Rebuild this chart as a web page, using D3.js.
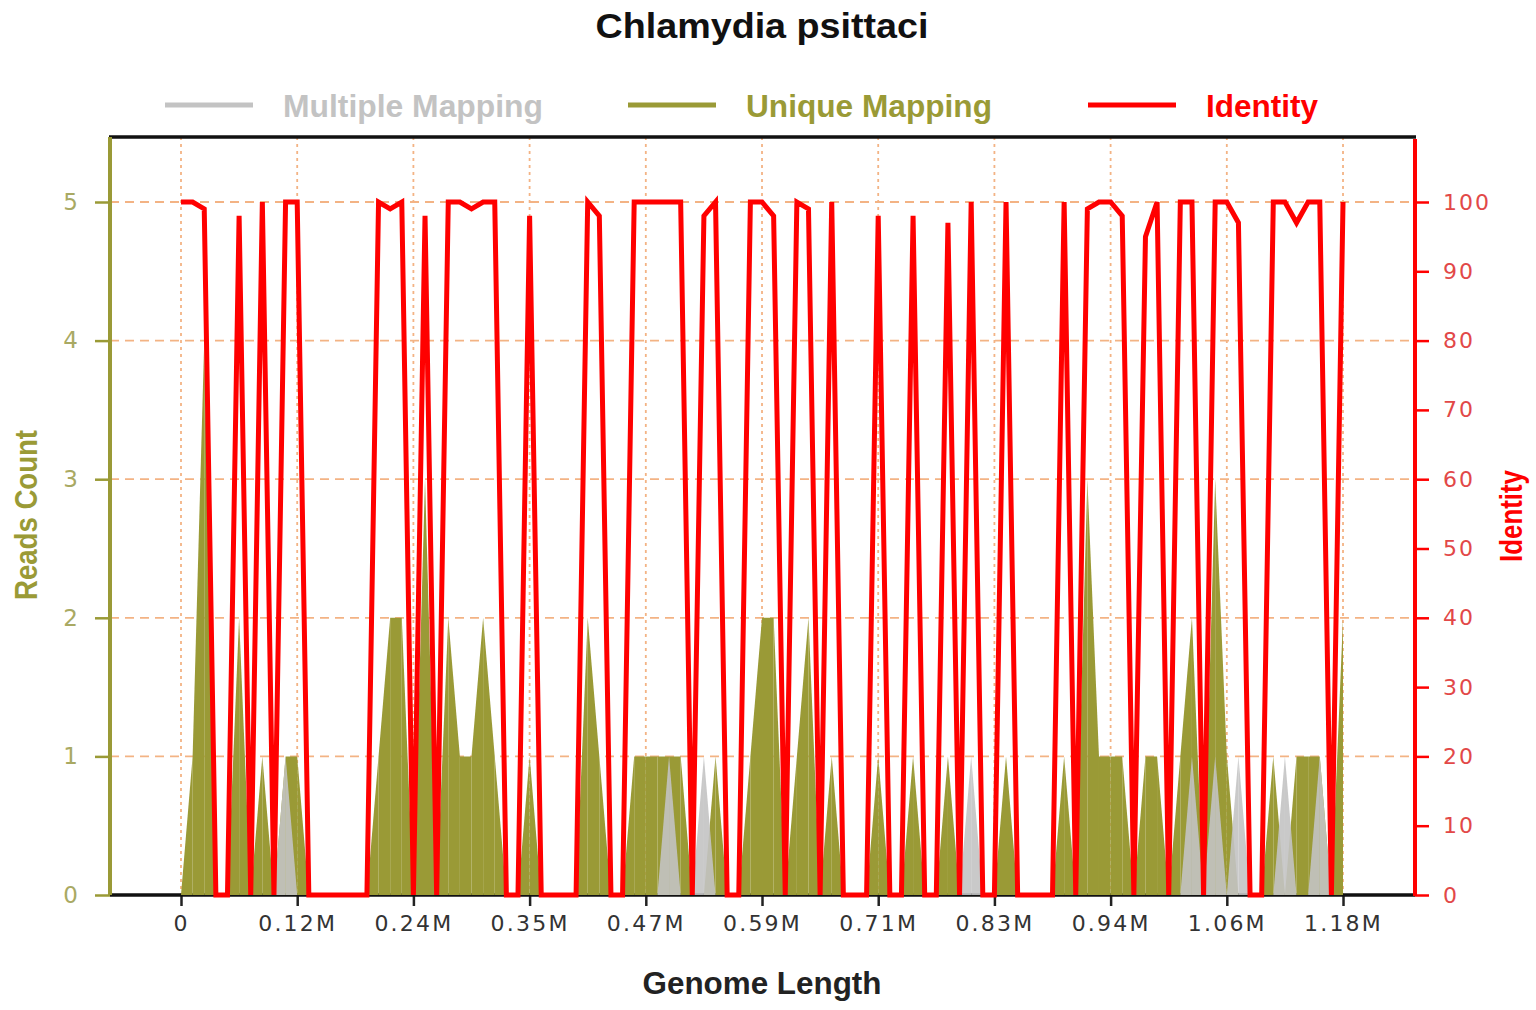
<!DOCTYPE html>
<html>
<head>
<meta charset="utf-8">
<script src="https://cdnjs.cloudflare.com/ajax/libs/d3/7.8.5/d3.min.js"></script>
<style>
  body { margin: 0; background: #fff; }
  svg text { font-family: "DejaVu Sans", sans-serif; }
  .narrow { font-family: "Liberation Sans Narrow", "Liberation Sans", Arial, sans-serif; }
</style>
</head>
<body>
<svg id="chart" width="1536" height="1010"></svg>
<script>
// bins of 11.8 kb along the genome (101 points, 0 .. 1.18M)
var binSize = 11800;

var identity = [
  100, 100, 99, 0, 0, 98, 0, 100, 0, 100,
  100, 0, 0, 0, 0, 0, 0, 100, 99, 100,
  0, 98, 0, 100, 100, 99, 100, 100, 0, 0,
  98, 0, 0, 0, 0, 100, 98, 0, 0, 100,
  100, 100, 100, 100, 0, 98, 100, 0, 0, 100,
  100, 98, 0, 100, 99, 0, 100, 0, 0, 0,
  98, 0, 0, 98, 0, 0, 97, 0, 100, 0,
  0, 100, 0, 0, 0, 0, 100, 0, 99, 100,
  100, 98, 0, 95, 100, 0, 100, 100, 0, 100,
  100, 97, 0, 0, 100, 100, 97, 100, 100, 0,
  100
];

var uniqueReads = [
  0, 1, 4, 0, 0, 2, 0, 1, 0, 1,
  1, 0, 0, 0, 0, 0, 0, 1, 2, 2,
  0, 3, 0, 2, 1, 1, 2, 1, 0, 0,
  1, 0, 0, 0, 0, 2, 1, 0, 0, 1,
  1, 1, 1, 1, 0, 0, 1, 0, 0, 1,
  2, 2, 0, 1, 2, 0, 1, 0, 0, 0,
  1, 0, 0, 1, 0, 0, 1, 0, 0, 0,
  0, 1, 0, 0, 0, 0, 1, 0, 3, 1,
  1, 1, 0, 1, 1, 0, 1, 2, 0, 3,
  1, 0, 0, 0, 1, 0, 1, 1, 1, 0,
  2
];

var multipleReads = [
  0, 0, 0, 0, 0, 0, 0, 0, 0, 1,
  0, 0, 0, 0, 0, 0, 0, 0, 0, 0,
  0, 0, 0, 0, 0, 0, 0, 0, 0, 0,
  0, 0, 0, 0, 0, 0, 0, 0, 0, 0,
  0, 0, 1, 0, 0, 1, 0, 0, 0, 0,
  0, 0, 0, 0, 0, 0, 0, 0, 0, 0,
  0, 0, 0, 0, 0, 0, 0, 0, 1, 0,
  0, 0, 0, 0, 0, 0, 0, 0, 0, 0,
  0, 0, 0, 0, 0, 0, 0, 1, 0, 1,
  0, 1, 0, 0, 0, 1, 0, 0, 1, 0,
  0
];

var genomeTicks = [0, 118000, 236000, 354000, 472000, 590000, 708000, 826000, 944000, 1062000, 1180000];
var genomeTickLabels = ['0', '0.12M', '0.24M', '0.35M', '0.47M', '0.59M', '0.71M', '0.83M', '0.94M', '1.06M', '1.18M'];
var readTicks = [0, 1, 2, 3, 4, 5];
var identityTicks = [0, 10, 20, 30, 40, 50, 60, 70, 80, 90, 100];
var legendNames = ['Multiple Mapping', 'Unique Mapping', 'Identity'];

(function() {
  var svg = d3.select('#chart');
  var left = 110, right = 1415, top = 137, bottom = 895;

  var olive = '#9a9a36', gray = '#c3c3c3', red = '#ff0000', gridColor = '#f3b384';

  var x = d3.scaleLinear().domain([-72100, 1253100]).range([left, right]);
  var yReads = d3.scaleLinear().domain([0, 5]).range([bottom, 202]);
  var yIdent = d3.scaleLinear().domain([0, 100]).range([bottom, 202]);

  var points = identity.map(function(d, i) {
    return { pos: i * binSize, ident: d, uniq: uniqueReads[i], multi: multipleReads[i] };
  });

  // grid
  svg.append('g').selectAll('line')
    .data(readTicks.slice(1))
    .enter().append('line')
    .attr('x1', left).attr('x2', right)
    .attr('y1', function(d) { return yReads(d); })
    .attr('y2', function(d) { return yReads(d); })
    .attr('stroke', gridColor).attr('stroke-width', 1.8)
    .attr('stroke-dasharray', '9,6');

  svg.append('g').selectAll('line')
    .data(genomeTicks)
    .enter().append('line')
    .attr('x1', function(d) { return x(d); })
    .attr('x2', function(d) { return x(d); })
    .attr('y1', top).attr('y2', bottom)
    .attr('stroke', gridColor).attr('stroke-width', 1.8)
    .attr('stroke-dasharray', '3,4');

  // baseline + x axis
  var xAxis = svg.append('g')
    .attr('transform', 'translate(0,' + bottom + ')')
    .call(d3.axisBottom(x)
      .tickValues(genomeTicks)
      .tickFormat(function(d, i) { return genomeTickLabels[i]; })
      .tickSize(11)
      .tickSizeOuter(0)
      .tickPadding(9));
  xAxis.select('.domain').remove();
  xAxis.selectAll('.tick line').attr('stroke', '#222').attr('stroke-width', 2.5);
  xAxis.selectAll('.tick text')
    .attr('fill', '#333').style('font-size', '22px').style('letter-spacing', '2.2px');

  svg.append('line')
    .attr('x1', left).attr('x2', right).attr('y1', bottom).attr('y2', bottom)
    .attr('stroke', '#111').attr('stroke-width', 3.5);

  // areas, drawn bin by bin (gives the thin seams between bins)
  var area = d3.area()
    .x(function(d) { return x(d.pos); })
    .y0(bottom);

  var segs = d3.range(points.length - 1).map(function(i) { return [points[i], points[i + 1]]; });

  svg.append('g').selectAll('path')
    .data(segs.filter(function(s) { return s[0].uniq > 0 || s[1].uniq > 0; }))
    .enter().append('path')
    .attr('d', area.y1(function(d) { return yReads(d.uniq); }))
    .attr('fill', olive);

  var area2 = d3.area()
    .x(function(d) { return x(d.pos); })
    .y0(bottom)
    .y1(function(d) { return yReads(d.multi); });

  svg.append('g').selectAll('path')
    .data(segs.filter(function(s) { return s[0].multi > 0 || s[1].multi > 0; }))
    .enter().append('path')
    .attr('d', area2)
    .attr('fill', gray).attr('fill-opacity', 0.9);

  // identity line
  var line = d3.line()
    .x(function(d) { return x(d.pos); })
    .y(function(d) { return yIdent(d.ident); });

  svg.append('path')
    .datum(points)
    .attr('d', line)
    .attr('fill', 'none')
    .attr('stroke', red)
    .attr('stroke-width', 5)
    .attr('stroke-linejoin', 'miter');

  // frame
  svg.append('line')
    .attr('x1', left - 1).attr('x2', right + 1).attr('y1', top).attr('y2', top)
    .attr('stroke', '#111').attr('stroke-width', 3.5);

  var yl = svg.append('g')
    .attr('transform', 'translate(' + left + ',0)')
    .call(d3.axisLeft(yReads).tickValues(readTicks).tickFormat(d3.format('d'))
      .tickSize(15).tickSizeOuter(0).tickPadding(17));
  yl.select('.domain').remove();
  yl.selectAll('.tick line').attr('stroke', olive).attr('stroke-width', 2.5);
  yl.selectAll('.tick text').attr('fill', '#a9a963').style('font-size', '23px');
  svg.append('line')
    .attr('x1', left).attr('x2', left).attr('y1', top).attr('y2', bottom)
    .attr('stroke', olive).attr('stroke-width', 4);

  var yr = svg.append('g')
    .attr('transform', 'translate(' + right + ',0)')
    .call(d3.axisRight(yIdent).tickValues(identityTicks).tickSize(14).tickSizeOuter(0).tickPadding(14));
  yr.select('.domain').remove();
  yr.selectAll('.tick line').attr('stroke', red).attr('stroke-width', 2.5);
  yr.selectAll('.tick text').attr('fill', '#e24848').style('font-size', '22px').style('letter-spacing', '2px');
  svg.append('line')
    .attr('x1', right).attr('x2', right).attr('y1', top + 2).attr('y2', bottom + 1)
    .attr('stroke', red).attr('stroke-width', 4);

  // titles
  svg.append('text').attr('class', 'narrow')
    .attr('x', 762).attr('y', 38).attr('text-anchor', 'middle')
    .attr('textLength', 333).attr('lengthAdjust', 'spacingAndGlyphs')
    .style('font-size', '35px').style('font-weight', 'bold').attr('fill', '#111')
    .text('Chlamydia psittaci');

  svg.append('text').attr('class', 'narrow')
    .attr('x', 762).attr('y', 994).attr('text-anchor', 'middle')
    .attr('textLength', 239).attr('lengthAdjust', 'spacingAndGlyphs')
    .style('font-size', '31px').style('font-weight', 'bold').attr('fill', '#222')
    .text('Genome Length');

  svg.append('text').attr('class', 'narrow')
    .attr('transform', 'translate(37,515) rotate(-90)').attr('text-anchor', 'middle')
    .attr('textLength', 170).attr('lengthAdjust', 'spacingAndGlyphs')
    .style('font-size', '31px').style('font-weight', 'bold').attr('fill', olive)
    .text('Reads Count');

  svg.append('text').attr('class', 'narrow')
    .attr('transform', 'translate(1522,516) rotate(-90)').attr('text-anchor', 'middle')
    .attr('textLength', 92).attr('lengthAdjust', 'spacingAndGlyphs')
    .style('font-size', '31px').style('font-weight', 'bold').attr('fill', red)
    .text('Identity');

  // legend
  var legendColors = [gray, olive, red];
  var legendX = [165, 628, 1088];
  var legendW = [260, 246, 112];
  var lg = svg.append('g').selectAll('g')
    .data(legendNames)
    .enter().append('g')
    .attr('transform', function(d, i) { return 'translate(' + legendX[i] + ',105)'; });
  lg.append('line')
    .attr('x1', 0).attr('x2', 88).attr('y1', 0).attr('y2', 0)
    .attr('stroke', function(d, i) { return legendColors[i]; })
    .attr('stroke-width', 5);
  lg.append('text').attr('class', 'narrow')
    .attr('x', 118).attr('y', 12)
    .attr('textLength', function(d, i) { return legendW[i]; })
    .attr('lengthAdjust', 'spacingAndGlyphs')
    .style('font-size', '32px').style('font-weight', 'bold')
    .attr('fill', function(d, i) { return legendColors[i]; })
    .text(function(d) { return d; });
})();
</script>
</body>
</html>
